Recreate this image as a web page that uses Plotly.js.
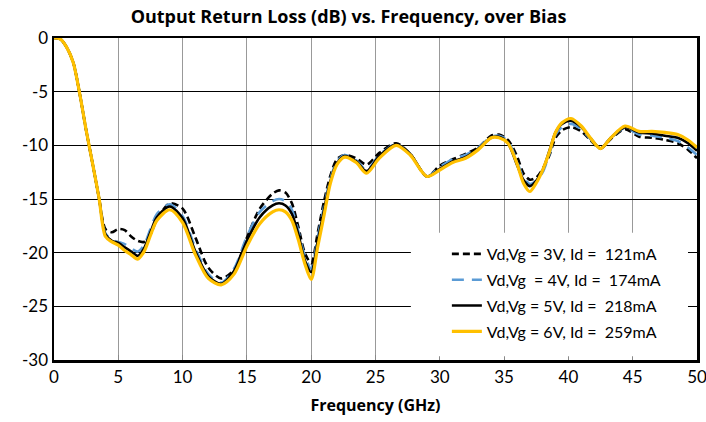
<!DOCTYPE html>
<html>
<head>
<meta charset="utf-8">
<script src="https://cdn.plot.ly/plotly-3.0.1.min.js"></script>
<style>html,body{margin:0;padding:0;background:#fff;}#chart{width:706px;height:422px;}</style>
</head>
<body>
<div id="chart"></div>
<script>
// Frequency points (GHz)
const freq = [0, 0.5, 1, 1.5, 2, 2.5, 3, 3.5, 4, 4.5, 5, 5.5, 6, 6.5, 7, 7.5, 8, 9, 10, 11, 12, 13, 14, 15, 16, 17, 17.5, 18, 18.5, 19, 19.5, 20, 20.5, 21, 21.5, 22, 22.6, 23.5, 24.3, 25.3, 26.6, 27.7, 29, 30, 31, 32, 33, 34, 34.6, 35.3, 36, 36.5, 37, 37.5, 38, 38.5, 39, 39.5, 40.2, 41, 41.7, 42.5, 43.3, 44.4, 45.5, 46.5, 47.5, 48.5, 49.3, 50];

// Output return loss (dB) per bias
const rl3V = [0, -0.1, -0.9, -2.3, -5.2, -8.6, -11.7, -14.9, -17.8, -18.1, -17.8, -17.9, -18.5, -18.9, -19.0, -18.3, -16.9, -15.4, -15.9, -18.6, -21.4, -22.4, -21.6, -18.6, -15.9, -14.5, -14.2, -14.4, -15.4, -17.6, -20.0, -21.0, -18.2, -15.2, -12.8, -11.3, -10.9, -11.2, -11.8, -10.7, -9.8, -10.8, -12.9, -11.9, -11.3, -10.8, -10.2, -9.1, -9.0, -9.5, -11.0, -12.6, -13.2, -13.0, -12.2, -11.0, -9.3, -8.6, -8.3, -8.7, -9.5, -10.3, -9.4, -8.5, -9.2, -9.3, -9.5, -9.8, -10.4, -11.2];
const rl4V = [0, -0.1, -0.9, -2.3, -5.2, -8.6, -11.7, -14.9, -18.2, -18.8, -19.0, -19.2, -19.6, -19.9, -19.3, -17.8, -16.4, -15.5, -16.6, -19.6, -22.0, -22.8, -21.5, -18.5, -16.2, -15.2, -15.0, -15.2, -16.0, -18.0, -20.3, -21.5, -18.6, -15.7, -13.1, -11.5, -10.9, -11.4, -12.3, -10.9, -9.9, -10.8, -12.9, -12.0, -11.3, -10.9, -10.2, -9.2, -9.1, -9.6, -11.5, -13.0, -13.6, -13.3, -12.5, -10.9, -9.0, -8.3, -8.0, -8.5, -9.4, -10.3, -9.3, -8.4, -9.0, -9.1, -9.3, -9.6, -10.2, -10.9];
const rl5V = [0, -0.1, -0.9, -2.3, -5.2, -8.6, -11.7, -14.9, -18.3, -18.9, -19.1, -19.5, -19.9, -20.3, -19.6, -18.1, -16.7, -15.7, -16.8, -19.9, -22.2, -22.9, -21.7, -18.9, -16.7, -15.6, -15.4, -15.6, -16.4, -18.3, -20.7, -21.8, -19.0, -16.0, -13.3, -11.7, -11.0, -11.5, -12.4, -11.0, -9.9, -10.8, -12.9, -12.2, -11.5, -11.1, -10.3, -9.3, -9.2, -9.8, -11.8, -13.2, -13.8, -13.3, -12.3, -10.6, -8.8, -8.0, -7.7, -8.3, -9.3, -10.3, -9.3, -8.3, -8.8, -8.9, -9.1, -9.3, -9.8, -10.5];
const rl6V = [0, -0.1, -0.9, -2.3, -5.2, -8.6, -11.7, -14.9, -18.5, -19.0, -19.3, -19.8, -20.2, -20.6, -19.9, -18.4, -17.0, -16.0, -17.2, -20.2, -22.4, -23.0, -22.0, -19.4, -17.3, -16.2, -16.0, -16.2, -17.0, -18.8, -21.0, -22.5, -19.5, -16.5, -13.5, -11.8, -11.1, -11.6, -12.6, -11.2, -10.0, -10.9, -12.9, -12.3, -11.6, -11.2, -10.4, -9.3, -9.3, -9.8, -11.7, -13.5, -14.3, -13.5, -12.3, -10.7, -8.8, -7.9, -7.5, -8.2, -9.3, -10.3, -9.3, -8.2, -8.7, -8.7, -8.8, -9.0, -9.5, -10.2];

const seriesNames = [
  "Vd,Vg = 3V, Id =\u00a0\u00a0121mA",
  "Vd,Vg\u00a0\u00a0= 4V, Id =\u00a0\u00a0174mA",
  "Vd,Vg = 5V, Id =\u00a0\u00a0218mA",
  "Vd,Vg = 6V, Id =\u00a0\u00a0259mA"
];
const xTicks = [0, 5, 10, 15, 20, 25, 30, 35, 40, 45, 50];
const yTicks = [0, -5, -10, -15, -20, -25, -30];

const styles = [
  {color: '#000000', width: 2.6, dash: '7px,4px'},
  {color: '#5B9BD5', width: 2.6, dash: '12px,8px'},
  {color: '#000000', width: 2.6, dash: 'solid'},
  {color: '#FFC000', width: 3.2, dash: 'solid'}
];
const ys = [rl3V, rl4V, rl5V, rl6V];

const traces = ys.map((y, i) => ({
  x: freq, y: y, type: 'scatter', mode: 'lines',
  name: seriesNames[i], legendgroup: 'g' + i,
  line: Object.assign({shape: 'spline', smoothing: 0.8}, styles[i])
}));

const layout = {
  width: 706, height: 422,
  margin: {l: 54, r: 9, t: 38, b: 62},
  paper_bgcolor: '#ffffff', plot_bgcolor: '#ffffff',
  font: {family: 'Lato, "Liberation Sans", sans-serif', size: 16, color: '#000'},
  title: {text: '<b>Output Return Loss (dB) vs. Frequency, over Bias</b>', xref: 'paper', x: 0.458, xanchor: 'center', y: 0.96, yanchor: 'middle',
          font: {family: '"Open Sans", sans-serif', size: 18, color: '#000'}},
  xaxis: {
    range: [0, 50], tickvals: xTicks, ticktext: xTicks.map(String),
    showgrid: true, gridcolor: '#999999', gridwidth: 1,
    showline: true, mirror: true, linecolor: '#000', linewidth: 2.5,
    ticks: 'inside', ticklen: 5, tickcolor: '#888', zeroline: false,
    tickfont: {size: 17}, ticklabeloverflow: 'allow',
    title: {text: '<b>Frequency (GHz)</b>', font: {family: '"Open Sans", sans-serif', size: 16}, standoff: 14}
  },
  yaxis: {
    range: [-30, 0], tickvals: yTicks, ticktext: yTicks.map(String),
    showgrid: true, gridcolor: '#000000', gridwidth: 1,
    showline: true, mirror: true, linecolor: '#000', linewidth: 2.5,
    ticks: '', zeroline: false, tickfont: {size: 17}
  },
  shapes: [{
    type: 'rect', xref: 'paper', yref: 'paper', layer: 'above',
    x0: 0.555, x1: 0.986, y0: 0.012, y1: 0.395,
    fillcolor: '#ffffff', line: {width: 0}
  }],
  showlegend: true,
  legend: {
    x: 0.611, y: 0.382, xanchor: 'left', yanchor: 'top',
    bgcolor: 'rgba(255,255,255,0)', borderwidth: 0, font: {size: 16},
    tracegroupgap: 2, traceorder: 'grouped'
  }
};

Plotly.newPlot('chart', traces, layout, {staticPlot: true, displayModeBar: false});
</script>
</body>
</html>
